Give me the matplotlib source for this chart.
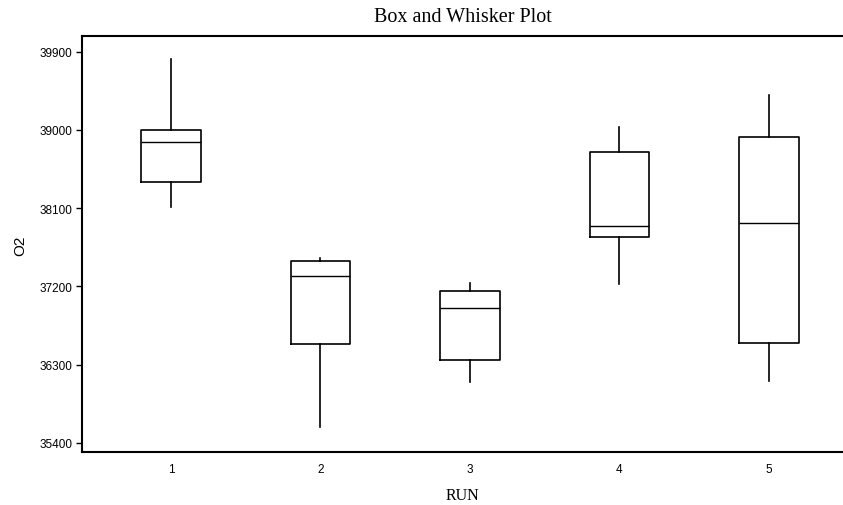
"""Box and whisker plot of O2 by RUN."""

import matplotlib
matplotlib.use("Agg")
import matplotlib.pyplot as plt

runs = [1, 2, 3, 4, 5]
whisker_low = [38107, 35577, 36098, 37228, 36106]
q1 = [38404, 36534, 36349, 37763, 36549]
median = [38859, 37324, 36947, 37891, 37930]
q3 = [38998, 37486, 37150, 38740, 38917]
whisker_high = [39811, 37529, 37243, 39029, 39406]
y_ticks = [35400, 36300, 37200, 38100, 39000, 39900]

stats = [
    {"whislo": lo, "q1": a, "med": m, "q3": b, "whishi": hi, "fliers": []}
    for lo, a, m, b, hi in zip(whisker_low, q1, median, q3, whisker_high)
]

fig = plt.figure(figsize=(8.43, 5.06), dpi=100)
ax = fig.add_axes([0.0973, 0.104, 0.9027, 0.822])

line = dict(color="black", linewidth=1.2)
ax.bxp(
    stats,
    positions=runs,
    widths=0.4,
    showcaps=False,
    boxprops=line,
    whiskerprops=line,
    medianprops=dict(color="black", linewidth=1.0),
)

ax.set_xlim(0.405, 5.495)
ax.set_ylim(35290, 40074)
ax.set_yticks(y_ticks)
ax.set_xticks(runs)
ax.set_xticklabels([str(r) for r in runs])

for side in ("left", "top", "bottom"):
    ax.spines[side].set_linewidth(1.5)
ax.spines["right"].set_visible(False)

ax.tick_params(axis="y", length=4, width=1, labelsize=8.5, pad=3)
ax.tick_params(axis="x", length=0, labelsize=8.5, pad=8)
for lbl in ax.get_xticklabels() + ax.get_yticklabels():
    lbl.set_family("Liberation Sans")

ax.set_title("Box and Whisker Plot", family="Liberation Serif", fontsize=14.5, pad=11)
ax.set_xlabel("RUN", family="Liberation Serif", fontsize=11.5, labelpad=8)
ax.set_ylabel("O2", family="Liberation Sans", fontsize=11, labelpad=9)

fig.savefig("out.png", dpi=100)
